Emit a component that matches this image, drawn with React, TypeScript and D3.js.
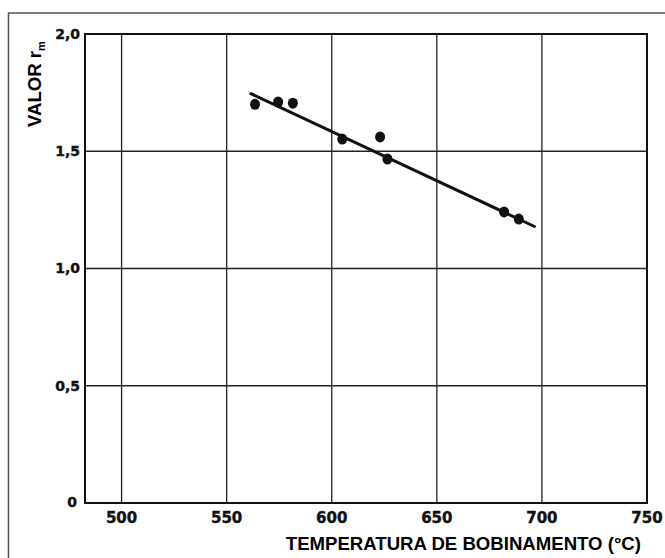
import React from "react";
import * as d3 from "d3";

// Coiling temperature (°C) vs. average r value
const temperatures = [563.5, 574.5, 581.5, 605, 623, 626.5, 682, 689];
const rValues = [1.70, 1.71, 1.705, 1.552, 1.561, 1.467, 1.241, 1.211];

// Fitted trend line end points
const fitTemps = [561, 697];
const fitValues = [1.748, 1.177];

const xTicks = [500, 550, 600, 650, 700, 750];
const yTicks = [0.5, 1.0, 1.5, 2.0];
const yTickLabels = ["0,5", "1,0", "1,5", "2,0"];

const W = 665;
const H = 558;

export default function App() {
  const x = d3.scaleLinear().domain([482.6, 750]).range([85, 647]);
  const y = d3.scaleLinear().domain([0, 2]).range([503, 34]);
  const left = x(482.6);
  const right = x(750);
  const top = y(2);
  const bottom = y(0);

  const fitLine = d3
    .line<number>()
    .x((d) => x(fitTemps[d]))
    .y((d) => y(fitValues[d]))([0, 1]);

  const tickFont = "'DejaVu Sans', 'Liberation Sans', sans-serif";
  const titleFont = "'Liberation Sans', Arial, sans-serif";

  return (
    <svg
      width={W}
      height={H}
      style={{ position: "absolute", left: 0, top: 0, background: "#fff" }}
    >
      {/* outer frame */}
      <rect x={8.5} y={13} width={720} height={620} fill="none" stroke="#555" strokeWidth={1.5} />

      {/* grid */}
      {xTicks.slice(0, -1).map((t) => (
        <line key={"gx" + t} x1={x(t)} x2={x(t)} y1={top} y2={bottom} stroke="#222" strokeWidth={1.3} />
      ))}
      {yTicks.slice(0, -1).map((t) => (
        <line key={"gy" + t} x1={left} x2={right} y1={y(t)} y2={y(t)} stroke="#222" strokeWidth={1.3} />
      ))}

      {/* plot border */}
      <rect x={left} y={top} width={right - left} height={bottom - top} fill="none" stroke="#111" strokeWidth={2} />

      {/* y tick labels */}
      {yTicks.map((t, i) => (
        <text
          key={"yl" + t}
          x={80}
          y={y(t)}
          dy="0.35em"
          textAnchor="end"
          fontFamily={tickFont}
          fontWeight="bold"
          fontSize={14}
          fill="#111"
          stroke="#111"
          strokeWidth={0.4}
        >
          {yTickLabels[i]}
        </text>
      ))}
      <text x={72} y={502} dy="0.35em" textAnchor="middle" fontFamily={tickFont} fontWeight="bold" fontSize={14} fill="#111" stroke="#111" strokeWidth={0.4}>
        0
      </text>

      {/* x tick labels */}
      {xTicks.map((t) => (
        <text
          key={"xl" + t}
          x={x(t)}
          y={523}
          textAnchor="middle"
          fontFamily={tickFont}
          fontWeight="bold"
          fontSize={15}
          fill="#111"
          stroke="#111"
          strokeWidth={0.4}
        >
          {t}
        </text>
      ))}

      {/* axis titles */}
      <text x={641} y={550} textAnchor="end" fontFamily={titleFont} fontWeight="bold" fontSize={18.6} fill="#000">
        TEMPERATURA DE BOBINAMENTO (°C)
      </text>
      <text
        transform="translate(41,127) rotate(-90)"
        fontFamily={titleFont}
        fontWeight="bold"
        fontSize={18.6}
        fill="#000"
      >
        VALOR r<tspan fontSize={11} dy={4}>m</tspan>
      </text>

      {/* trend line */}
      <path d={fitLine ?? ""} fill="none" stroke="#111" strokeWidth={3} />

      {/* measured points */}
      {temperatures.map((t, i) => (
        <ellipse key={"p" + i} cx={x(t)} cy={y(rValues[i])} rx={5} ry={5.5} fill="#111" />
      ))}
    </svg>
  );
}
